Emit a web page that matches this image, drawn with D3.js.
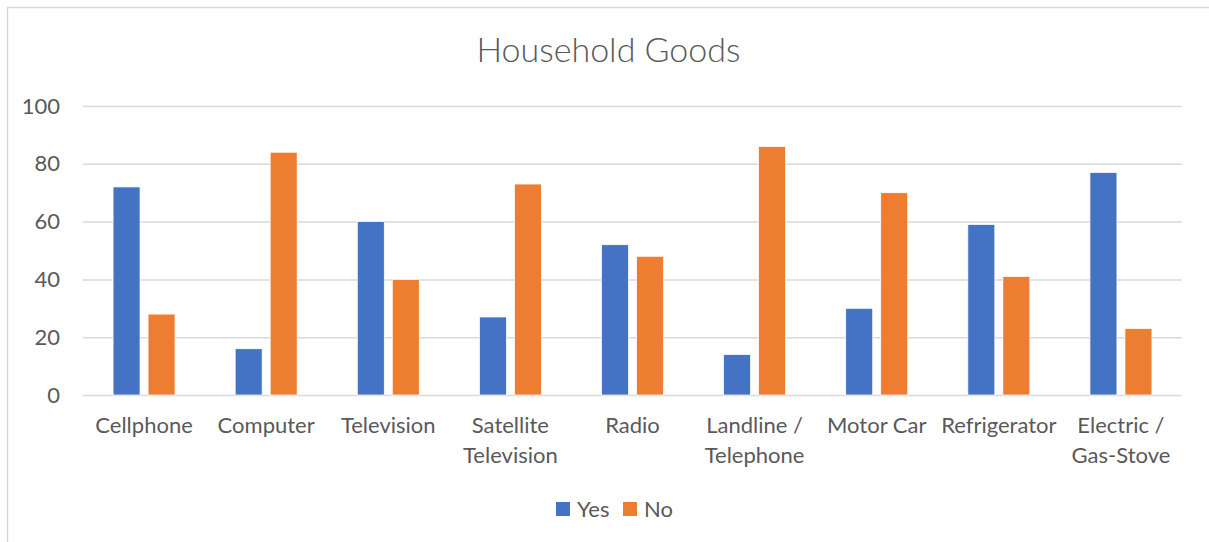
<!DOCTYPE html>
<html lang="en">
<head>
	<meta charset="UTF-8"/>
	<title>Household Goods</title>
	<script src="https://d3js.org/d3.v7.min.js"></script>
	<style>
		body { margin: 0; background: #fff; }
		text { font-family: Lato, "Open Sans", sans-serif; fill: #595959; }
	</style>
</head>
<body>
<script>
	var w = 1209;
	var h = 542;

	// data
	var categories = ["Cellphone", "Computer", "Television", "Satellite Television", "Radio",
		"Landline / Telephone", "Motor Car", "Refrigerator", "Electric / Gas-Stove"];
	var seriesNames = ["Yes", "No"];
	var yesValues = [72, 16, 60, 27, 52, 14, 30, 59, 77];
	var noValues = [28, 84, 40, 73, 48, 86, 70, 41, 23];
	var yTicks = [0, 20, 40, 60, 80, 100];
	var colors = ["#4472C4", "#ED7D31"];

	// plot area
	var plotLeft = 83, plotRight = 1182, plotTop = 106, plotBottom = 395;

	var svg = d3.select("body")
				.append("svg")
				.attr("width", w)
				.attr("height", h);

	// chart border (top + left visible, rest cropped off)
	svg.append("rect")
		.attr("x", 7.5).attr("y", 7.5)
		.attr("width", w + 10).attr("height", h + 10)
		.attr("fill", "white")
		.attr("stroke", "#D9D9D9")
		.attr("stroke-width", 1.5);

	var xScale = d3.scaleBand()
				.domain(categories)
				.range([plotLeft, plotRight])
				.padding(0);

	var xInner = d3.scaleBand()
				.domain(seriesNames)
				.range([0, xScale.bandwidth()])
				.paddingInner(0.229)
				.paddingOuter(0.859);

	var yScale = d3.scaleLinear()
				.domain([0, 100])
				.range([plotBottom, plotTop]);

	//------------title-------------
	svg.append("text")
		.attr("x", w / 2 + 4)
		.attr("y", 62)
		.attr("text-anchor", "middle")
		.style("font-size", "34px")
		.style("font-weight", 300)
		.text("Household Goods");

	//------------grid + y axis-------------
	var yAxis = d3.axisLeft(yScale)
				.tickValues(yTicks)
				.tickSize(-(plotRight - plotLeft))
				.tickPadding(23);

	var gy = svg.append("g")
				.attr("transform", "translate(" + plotLeft + ",0)")
				.call(yAxis);
	gy.select(".domain").remove();
	gy.selectAll("line")
		.attr("stroke", "#D9D9D9")
		.attr("stroke-width", 1.5);
	gy.selectAll("text")
		.style("font-size", "22px")
		.attr("fill", "#595959");

	//------------bars-------------
	var rows = categories.map(function (c, i) {
		return { cat: c, values: [yesValues[i], noValues[i]] };
	});

	var groups = svg.selectAll("g.cat")
				.data(rows)
				.enter()
				.append("g")
				.attr("class", "cat")
				.attr("transform", function (d) { return "translate(" + xScale(d.cat) + ",0)"; });

	groups.selectAll("rect")
		.data(function (d) {
			return d.values.map(function (v, j) { return { key: seriesNames[j], value: v, idx: j }; });
		})
		.enter()
		.append("rect")
		.attr("x", function (d) { return xInner(d.key); })
		.attr("y", function (d) { return yScale(d.value); })
		.attr("width", xInner.bandwidth())
		.attr("height", function (d) { return yScale(0) - yScale(d.value); })
		.attr("fill", function (d) { return colors[d.idx]; })
		.attr("stroke", "white")
		.attr("stroke-width", 0.75);

	//------------x labels (wrapped like excel)-------------
	var xAxis = d3.axisBottom(xScale).tickSize(0).tickPadding(0);
	var gx = svg.append("g")
				.attr("transform", "translate(0," + plotBottom + ")")
				.call(xAxis);
	gx.select(".domain").remove();
	gx.selectAll("text")
		.style("font-size", "22px")
		.attr("fill", "#595959")
		.attr("dy", null)
		.attr("y", 38)
		.each(function (d) {
			var t = d3.select(this);
			var words = d.split(" ");
			var lines = [];
			var line = [];
			t.text(null);
			var probe = t.append("tspan").attr("x", 0);
			words.forEach(function (word) {
				line.push(word);
				probe.text(line.join(" "));
				if (probe.node().getComputedTextLength() > xScale.bandwidth() - 2 && line.length > 1) {
					line.pop();
					lines.push(line.join(" "));
					line = [word];
				}
			});
			lines.push(line.join(" "));
			probe.remove();
			lines.forEach(function (l, k) {
				t.append("tspan")
					.attr("x", 0)
					.attr("y", 38 + k * 30)
					.text(l);
			});
		});

	//------------legend-------------
	var legendX = [556, 623];
	var legend = svg.selectAll("g.legend")
				.data(seriesNames)
				.enter()
				.append("g")
				.attr("class", "legend")
				.attr("transform", function (d, i) { return "translate(" + legendX[i] + ",502)"; });

	legend.append("rect")
		.attr("width", 14)
		.attr("height", 14)
		.attr("fill", function (d, i) { return colors[i]; });

	legend.append("text")
		.attr("x", 21)
		.attr("y", 15)
		.style("font-size", "22px")
		.text(function (d) { return d; });
</script>
</body>
</html>
